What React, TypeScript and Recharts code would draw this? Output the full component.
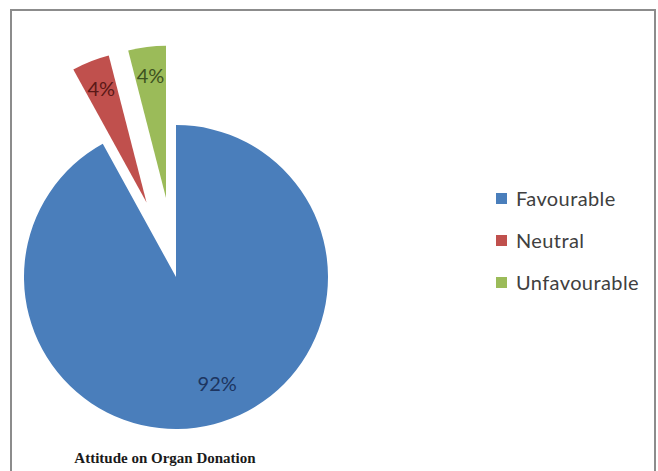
import { PieChart, Pie, Cell, Legend, Sector } from 'recharts'

const categories = ['Favourable', 'Neutral', 'Unfavourable']
const shares = [92, 4, 4]
const exploded = [false, true, true]
const colors = ['#4a7ebb', '#c0504d', '#9bbb59']
const labelColors = ['#1d3560', '#5a1816', '#3e5220']

const data = categories.map((name, i) => ({ name, value: shares[i] }))

const RAD = Math.PI / 180
const EXPLODE = 80

function offsetFor(name: string, midAngle: number) {
  const i = categories.indexOf(name)
  if (!exploded[i]) return [0, 0]
  return [EXPLODE * Math.cos(-midAngle * RAD), EXPLODE * Math.sin(-midAngle * RAD)]
}

function SliceShape(props: any) {
  const name = props.name ?? props.payload?.name
  const [dx, dy] = offsetFor(name, props.midAngle)
  return <Sector {...props} cx={props.cx + dx} cy={props.cy + dy} />
}

function SliceLabel(props: any) {
  const { cx, cy, midAngle, outerRadius, value } = props
  const name = props.name ?? props.payload?.name
  const i = categories.indexOf(name)
  const [dx, dy] = offsetFor(name, midAngle)
  const r = outerRadius * (exploded[i] ? 0.81 : 0.72)
  const x = cx + dx + r * Math.cos(-midAngle * RAD) + (i === 0 ? 14 : 0)
  const y = cy + dy + r * Math.sin(-midAngle * RAD)
  return (
    <text
      x={x}
      y={y}
      fill={labelColors[i]}
      textAnchor="middle"
      dominantBaseline="central"
      fontSize={20}
      fontFamily="Lato, 'Noto Sans', sans-serif"
    >
      {value}%
    </text>
  )
}

function LegendList({ payload }: any) {
  return (
    <div>
      {(payload || []).map((p: any) => (
        <div
          key={p.value}
          style={{ display: 'flex', alignItems: 'center', height: 42 }}
        >
          <span
            style={{ width: 11, height: 11, background: p.color, marginRight: 9 }}
          />
          <span
            style={{
              fontSize: 20,
              letterSpacing: 0.4,
              color: '#404040',
              fontFamily: "Lato, 'Noto Sans', sans-serif",
            }}
          >
            {p.value}
          </span>
        </div>
      ))}
    </div>
  )
}

export default function App() {
  return (
    <div
      style={{
        position: 'absolute',
        left: 0,
        top: 0,
        width: 658,
        height: 471,
        background: '#fff',
        overflow: 'hidden',
      }}
    >
      <div
        style={{
          position: 'absolute',
          left: 10,
          top: 9,
          width: 642,
          height: 470,
          border: '2px solid #8c8c8c',
          borderBottom: 'none',
        }}
      />
      <PieChart width={658} height={471} style={{ position: 'absolute', left: 0, top: 0 }}>
        <Pie
          data={data}
          dataKey="value"
          nameKey="name"
          cx={171}
          cy={272}
          outerRadius={152}
          startAngle={90}
          endAngle={-270}
          stroke="none"
          shape={SliceShape}
          label={SliceLabel}
          labelLine={false}
          isAnimationActive={false}
        >
          {data.map((d, i) => (
            <Cell key={d.name} fill={colors[i]} />
          ))}
        </Pie>
        <Legend
          layout="vertical"
          content={<LegendList />}
          wrapperStyle={{ position: 'absolute', left: 496, top: 177, width: 160 }}
        />
      </PieChart>
      <div
        style={{
          position: 'absolute',
          left: 60,
          top: 450,
          width: 210,
          textAlign: 'center',
          fontFamily: "'Liberation Serif', 'Times New Roman', serif",
          fontWeight: 'bold',
          fontSize: 15,
          color: '#1a1a1a',
        }}
      >
        Attitude on Organ Donation
      </div>
    </div>
  )
}
